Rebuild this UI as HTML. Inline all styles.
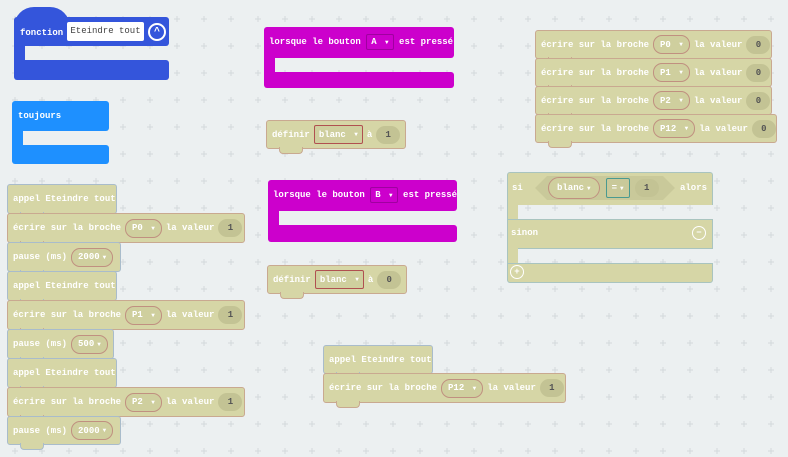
<!DOCTYPE html>
<html><head><meta charset="utf-8"><style>
body{margin:0;width:788px;height:457px;background:#ecf0f1;position:relative;overflow:hidden;font-family:"Liberation Mono","DejaVu Sans Mono",monospace;font-weight:bold;font-size:9px;color:#fff}
.b{position:absolute;box-sizing:border-box;background:#d6d6a6;border:1px solid #c9a990;border-radius:3px;display:flex;align-items:center;padding-left:5px;white-space:pre}
.bl{border-color:#a9bccb}
.n{position:absolute;left:12px;bottom:-6px;width:22px;height:6px;background:#d6d6a6;border:1px solid #c9a990;border-top:none;border-radius:0 0 4px 4px}
.bl .n{border-color:#a9bccb}
.pill{display:inline-flex;align-items:center;height:17px;border:1px solid #c09080;border-radius:9px;padding:0 6px;margin:0 4px;background:#cfcf9e}
.val{display:inline-flex;align-items:center;justify-content:center;height:18px;min-width:22px;border-radius:9px;background:#c3c394;color:#555;margin:0 4px;padding:0 1px}
.rect{display:inline-flex;align-items:center;height:17px;border:1px solid #b05050;border-radius:2px;padding:0 4px;margin:0 4px;background:#cfcf9e}
.c{position:absolute}
.tri{font-size:6px;margin-left:3px}
</style></head><body>
<svg style="position:absolute;left:0;top:0" width="788" height="457"><defs><pattern id="g" x="11" y="15" width="27" height="27" patternUnits="userSpaceOnUse"><path d="M4 1v6M1 4h6" stroke="#d3d9dc" stroke-width="1"/></pattern></defs><rect width="788" height="457" fill="url(#g)"/></svg>

<!-- fonction -->
<div class="c" style="left:14px;top:7px;width:56px;height:20px;background:#3455db;border-radius:28px 28px 0 0"></div>
<div class="c" style="left:14px;top:17px;width:155px;height:29px;background:#3455db;border-radius:3px 3px 3px 0"></div>
<div class="c" style="left:14px;top:45px;width:11px;height:16px;background:#3455db"></div>
<div class="c" style="left:14px;top:60px;width:155px;height:20px;background:#3455db;border-radius:0 3px 3px 3px"></div>
<div class="c" style="left:20px;top:25px;line-height:16px">fonction</div>
<div class="c" style="left:67px;top:22px;width:77px;height:19px;background:#fff;border-radius:2px;color:#444;font-weight:normal;line-height:19px;text-align:center">Eteindre tout</div>
<div class="c" style="left:148px;top:23px;width:14px;height:14px;border:2px solid #fff;border-radius:50%;color:#fff;font-size:10px;line-height:16px;text-align:center">^</div>

<!-- toujours -->
<div class="c" style="left:12px;top:101px;width:97px;height:30px;background:#1e90ff;border-radius:3px 3px 3px 0"></div>
<div class="c" style="left:12px;top:130px;width:11px;height:16px;background:#1e90ff"></div>
<div class="c" style="left:12px;top:145px;width:97px;height:19px;background:#1e90ff;border-radius:0 3px 3px 3px"></div>
<div class="c" style="left:18px;top:111px">toujours</div>

<!-- A -->
<div class="c" style="left:264px;top:27px;width:190px;height:31px;background:#cc00cc;border-radius:3px 3px 3px 0"></div>
<div class="c" style="left:264px;top:57px;width:11px;height:16px;background:#cc00cc"></div>
<div class="c" style="left:264px;top:72px;width:190px;height:16px;background:#cc00cc;border-radius:0 3px 3px 3px"></div>
<div class="c" style="left:269px;top:32px;height:20px;display:flex;align-items:center;white-space:pre">lorsque le bouton <span style="border:1px solid #a000a0;border-radius:2px;padding:2px 4px">A <span class="tri">▼</span></span> est pressé</div>
<!-- B -->
<div class="c" style="left:268px;top:180px;width:189px;height:31px;background:#cc00cc;border-radius:3px 3px 3px 0"></div>
<div class="c" style="left:268px;top:210px;width:11px;height:16px;background:#cc00cc"></div>
<div class="c" style="left:268px;top:225px;width:189px;height:17px;background:#cc00cc;border-radius:0 3px 3px 3px"></div>
<div class="c" style="left:273px;top:185px;height:20px;display:flex;align-items:center;white-space:pre">lorsque le bouton <span style="border:1px solid #a000a0;border-radius:2px;padding:2px 4px">B <span class="tri">▼</span></span> est pressé</div>

<!-- définir -->
<div class="b" style="left:266px;top:120px;width:140px;height:29px">définir<span class="rect">blanc <span class="tri">▼</span></span>à<span class="val">1</span><div class="n"></div></div>
<div class="b" style="left:267px;top:265px;width:140px;height:29px">définir<span class="rect">blanc <span class="tri">▼</span></span>à<span class="val">0</span><div class="n"></div></div>

<!-- left stack -->
<div class="b bl" style="left:7px;top:184px;width:110px;height:30px">appel Eteindre tout<div class="n"></div></div>
<div class="b" style="left:7px;top:213px;width:238px;height:30px">écrire sur la broche<span class="pill">P0 <span class="tri">▼</span></span>la valeur<span class="val">1</span><div class="n"></div></div>
<div class="b bl" style="left:7px;top:242px;width:114px;height:30px">pause (ms)<span class="pill">2000<span class="tri">▼</span></span><div class="n"></div></div>
<div class="b bl" style="left:7px;top:271px;width:110px;height:30px">appel Eteindre tout<div class="n"></div></div>
<div class="b" style="left:7px;top:300px;width:238px;height:30px">écrire sur la broche<span class="pill">P1 <span class="tri">▼</span></span>la valeur<span class="val">1</span><div class="n"></div></div>
<div class="b bl" style="left:7px;top:329px;width:107px;height:30px">pause (ms)<span class="pill">500<span class="tri">▼</span></span><div class="n"></div></div>
<div class="b bl" style="left:7px;top:358px;width:110px;height:30px">appel Eteindre tout<div class="n"></div></div>
<div class="b" style="left:7px;top:387px;width:238px;height:30px">écrire sur la broche<span class="pill">P2 <span class="tri">▼</span></span>la valeur<span class="val">1</span><div class="n"></div></div>
<div class="b bl" style="left:7px;top:416px;width:114px;height:29px">pause (ms)<span class="pill">2000<span class="tri">▼</span></span><div class="n"></div></div>

<!-- right column -->
<div class="b" style="left:535px;top:30px;width:237px;height:29px">écrire sur la broche<span class="pill">P0 <span class="tri">▼</span></span>la valeur<span class="val">0</span><div class="n"></div></div>
<div class="b" style="left:535px;top:58px;width:237px;height:29px">écrire sur la broche<span class="pill">P1 <span class="tri">▼</span></span>la valeur<span class="val">0</span><div class="n"></div></div>
<div class="b" style="left:535px;top:86px;width:237px;height:29px">écrire sur la broche<span class="pill">P2 <span class="tri">▼</span></span>la valeur<span class="val">0</span><div class="n"></div></div>
<div class="b" style="left:535px;top:114px;width:242px;height:29px">écrire sur la broche<span class="pill">P12 <span class="tri">▼</span></span>la valeur<span class="val">0</span><div class="n"></div></div>

<!-- si -->
<div class="c" style="left:507px;top:172px;width:206px;height:33px;background:#d6d6a6;border:1px solid #a9c4bf;border-bottom:none;box-sizing:border-box;border-radius:3px 3px 0 0"></div>
<div class="c" style="left:507px;top:204px;width:10px;height:16px;background:#d6d6a6;border-left:1px solid #a9c4bf"></div>
<div class="c" style="left:507px;top:219px;width:206px;height:30px;background:#d6d6a6;border:1px solid #a9c4bf;box-sizing:border-box"></div>
<div class="c" style="left:507px;top:248px;width:10px;height:16px;background:#d6d6a6;border-left:1px solid #a9c4bf"></div>
<div class="c" style="left:507px;top:263px;width:206px;height:20px;background:#d6d6a6;border:1px solid #a9c4bf;box-sizing:border-box;border-radius:0 0 3px 3px"></div>
<div class="c" style="left:512px;top:183px">si</div>
<svg class="c" style="left:535px;top:176px" width="140" height="24"><polygon points="12,0 128,0 140,12 128,24 12,24 0,12" fill="#c9c99a"/></svg>
<div class="c" style="left:548px;top:177px;height:22px;display:flex;align-items:center"><span class="pill" style="margin:0;height:20px;padding:0 8px;border-radius:11px">blanc <span class="tri">▼</span></span><span style="margin-left:6px;border:1px solid #4a9a90;border-radius:2px;padding:2px 5px;height:14px;display:inline-flex;align-items:center">= <span class="tri">▼</span></span><span class="val" style="margin-left:5px">1</span></div>
<div class="c" style="left:680px;top:183px">alors</div>
<div class="c" style="left:511px;top:228px">sinon</div>
<div class="c" style="left:692px;top:226px;width:12px;height:12px;border:1.5px solid #fff;border-radius:50%;text-align:center;line-height:12px">−</div>
<div class="c" style="left:510px;top:265px;width:12px;height:12px;border:1.5px solid #fff;border-radius:50%;text-align:center;line-height:12px">+</div>

<!-- bottom stack -->
<div class="b bl" style="left:323px;top:345px;width:110px;height:29px">appel Eteindre tout<div class="n"></div></div>
<div class="b" style="left:323px;top:373px;width:243px;height:30px">écrire sur la broche<span class="pill">P12 <span class="tri">▼</span></span>la valeur<span class="val">1</span><div class="n"></div></div>
</body></html>
